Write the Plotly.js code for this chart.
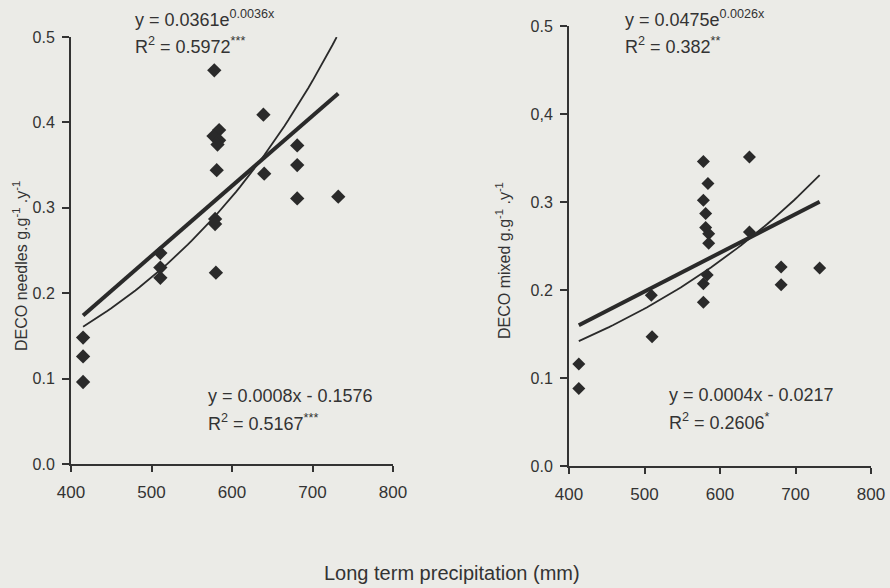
<!DOCTYPE html>
<html>
<head>
<meta charset="utf-8">
<script src="https://cdn.plot.ly/plotly-3.0.1.min.js"></script>
<style>html,body{margin:0;padding:0;background:#ebebe7;}</style>
</head>
<body>
<div id="chart" style="width:890px;height:588px;"></div>
<script>
// ---- Data: DECO needles (left panel) ----
const needlesX = [578, 639, 584, 577, 584, 582, 581, 640, 681, 681, 681, 732, 579, 579, 580, 511, 511, 511, 415, 415, 415];
const needlesY = [0.461, 0.409, 0.391, 0.384, 0.379, 0.374, 0.344, 0.340, 0.373, 0.350, 0.311, 0.313, 0.287, 0.281, 0.224, 0.247, 0.230, 0.218, 0.148, 0.126, 0.096];

// ---- Data: DECO mixed (right panel) ----
const mixedX = [578, 639, 584, 578, 581, 581, 585, 585, 639, 583, 578, 578, 681, 681, 732, 509, 510, 413, 413];
const mixedY = [0.346, 0.351, 0.321, 0.302, 0.287, 0.271, 0.264, 0.253, 0.266, 0.217, 0.207, 0.186, 0.226, 0.206, 0.225, 0.194, 0.147, 0.116, 0.088];

// ---- Trend lines (coefficients as drawn) ----
const needlesLin = {slope: 0.00082, intercept: -0.1663, from: 415, to: 732};
const needlesExp = {a: 0.0361, b: 0.0036, from: 415, to: 730};
const mixedLin = {slope: 0.00044, intercept: -0.0217, from: 413, to: 732};
const mixedExp = {a: 0.0475, b: 0.00265, from: 413, to: 732};

// ---- Tick labels ----
const xTicks = [400, 500, 600, 700, 800];
const yTicks = [0, 0.1, 0.2, 0.3, 0.4, 0.5];
const yTickTextLeft = ['0.0', '0.1', '0.2', '0.3', '0.4', '0.5'];
const yTickTextRight = ['0.0', '0.1', '0.2', '0.3', '0,4', '0.5'];

const ink = '#2a2a2a';

function linPts(c) { return {x: [c.from, c.to], y: [c.slope * c.from + c.intercept, c.slope * c.to + c.intercept]}; }
function expPts(c) {
  const xs = [], ys = [];
  for (let x = c.from; x <= c.to; x += 5) { xs.push(x); ys.push(c.a * Math.exp(c.b * x)); }
  if (xs[xs.length - 1] !== c.to) { xs.push(c.to); ys.push(c.a * Math.exp(c.b * c.to)); }
  return {x: xs, y: ys};
}

const nl = linPts(needlesLin), ne = expPts(needlesExp), ml = linPts(mixedLin), me = expPts(mixedExp);

const traces = [
  {x: ne.x, y: ne.y, xaxis: 'x', yaxis: 'y', mode: 'lines', line: {color: ink, width: 1.8}, hoverinfo: 'skip'},
  {x: nl.x, y: nl.y, xaxis: 'x', yaxis: 'y', mode: 'lines', line: {color: ink, width: 4}, hoverinfo: 'skip'},
  {x: needlesX, y: needlesY, xaxis: 'x', yaxis: 'y', mode: 'markers', marker: {symbol: 'diamond', size: 11, color: ink}},
  {x: me.x, y: me.y, xaxis: 'x2', yaxis: 'y2', mode: 'lines', line: {color: ink, width: 1.8}, hoverinfo: 'skip'},
  {x: ml.x, y: ml.y, xaxis: 'x2', yaxis: 'y2', mode: 'lines', line: {color: ink, width: 4}, hoverinfo: 'skip'},
  {x: mixedX, y: mixedY, xaxis: 'x2', yaxis: 'y2', mode: 'markers', marker: {symbol: 'diamond', size: 10, color: ink}}
];

const fam = 'Liberation Sans, Arial, sans-serif';
const tickFont = {family: fam, size: 16, color: '#333'};
const xTickFont = {family: fam, size: 17, color: '#333'};

function xAxis(domain, anchor) {
  return {domain: domain, anchor: anchor, range: [400, 800], tickvals: xTicks, ticktext: xTicks.map(String),
    ticks: 'outside', ticklen: 6, tickwidth: 2, tickcolor: '#333', showline: true, linewidth: 2, linecolor: '#333',
    showgrid: false, zeroline: false, tickfont: xTickFont, ticklabelstandoff: 6, fixedrange: true};
}
function yAxis(domain, anchor, text) {
  return {domain: domain, anchor: anchor, range: [0, 0.5], tickvals: yTicks, ticktext: text,
    ticks: 'outside', ticklen: 7, tickwidth: 2, tickcolor: '#333', showline: true, linewidth: 2, linecolor: '#333',
    showgrid: false, zeroline: false, tickfont: tickFont, ticklabelstandoff: 4, fixedrange: true};
}

const annFont = {family: fam, size: 18, color: '#333'};
function ann(text, xpx, ypx, extra) {
  return Object.assign({text: text, xref: 'paper', yref: 'paper', x: xpx / 890, y: 1 - ypx / 588,
    xanchor: 'left', yanchor: 'middle', showarrow: false, font: annFont, align: 'left'}, extra || {});
}

const layout = {
  width: 890, height: 588,
  margin: {l: 0, r: 0, t: 0, b: 0},
  paper_bgcolor: '#ebebe7', plot_bgcolor: 'rgba(0,0,0,0)',
  showlegend: false,
  xaxis: xAxis([71 / 890, 393 / 890], 'y'),
  yaxis: yAxis([124 / 588, 551 / 588], 'x', yTickTextLeft),
  xaxis2: xAxis([569 / 890, 871 / 890], 'y2'),
  yaxis2: yAxis([122 / 588, 562 / 588], 'x2', yTickTextRight),
  annotations: [
    ann('y = 0.0361e<sup>0.0036x</sup>', 133, 19),
    ann('R<sup>2</sup> = 0.5972<sup>***</sup>', 133, 45),
    ann('y = 0.0008x - 0.1576', 206, 396),
    ann('R<sup>2</sup> = 0.5167<sup>***</sup>', 206, 422),
    ann('y = 0.0475e<sup>0.0026x</sup>', 623, 19),
    ann('R<sup>2</sup> = 0.382<sup>**</sup>', 623, 45),
    ann('y = 0.0004x - 0.0217', 667, 395),
    ann('R<sup>2</sup> = 0.2606<sup>*</sup>', 667, 421),
    ann('DECO needles g.g<sup>-1</sup> .y<sup>-1</sup>', 20, 266, {xanchor: 'center', textangle: -90, font: {family: fam, size: 16, color: '#333'}}),
    ann('DECO mixed g.g<sup>-1</sup> .y<sup>-1</sup>', 503, 260, {xanchor: 'center', textangle: -90, font: {family: fam, size: 16, color: '#333'}}),
    ann('Long term precipitation (mm)', 452, 573, {xanchor: 'center', font: {family: fam, size: 20, color: '#333'}})
  ]
};

Plotly.newPlot('chart', traces, layout, {displayModeBar: false, staticPlot: true});
</script>
</body>
</html>
